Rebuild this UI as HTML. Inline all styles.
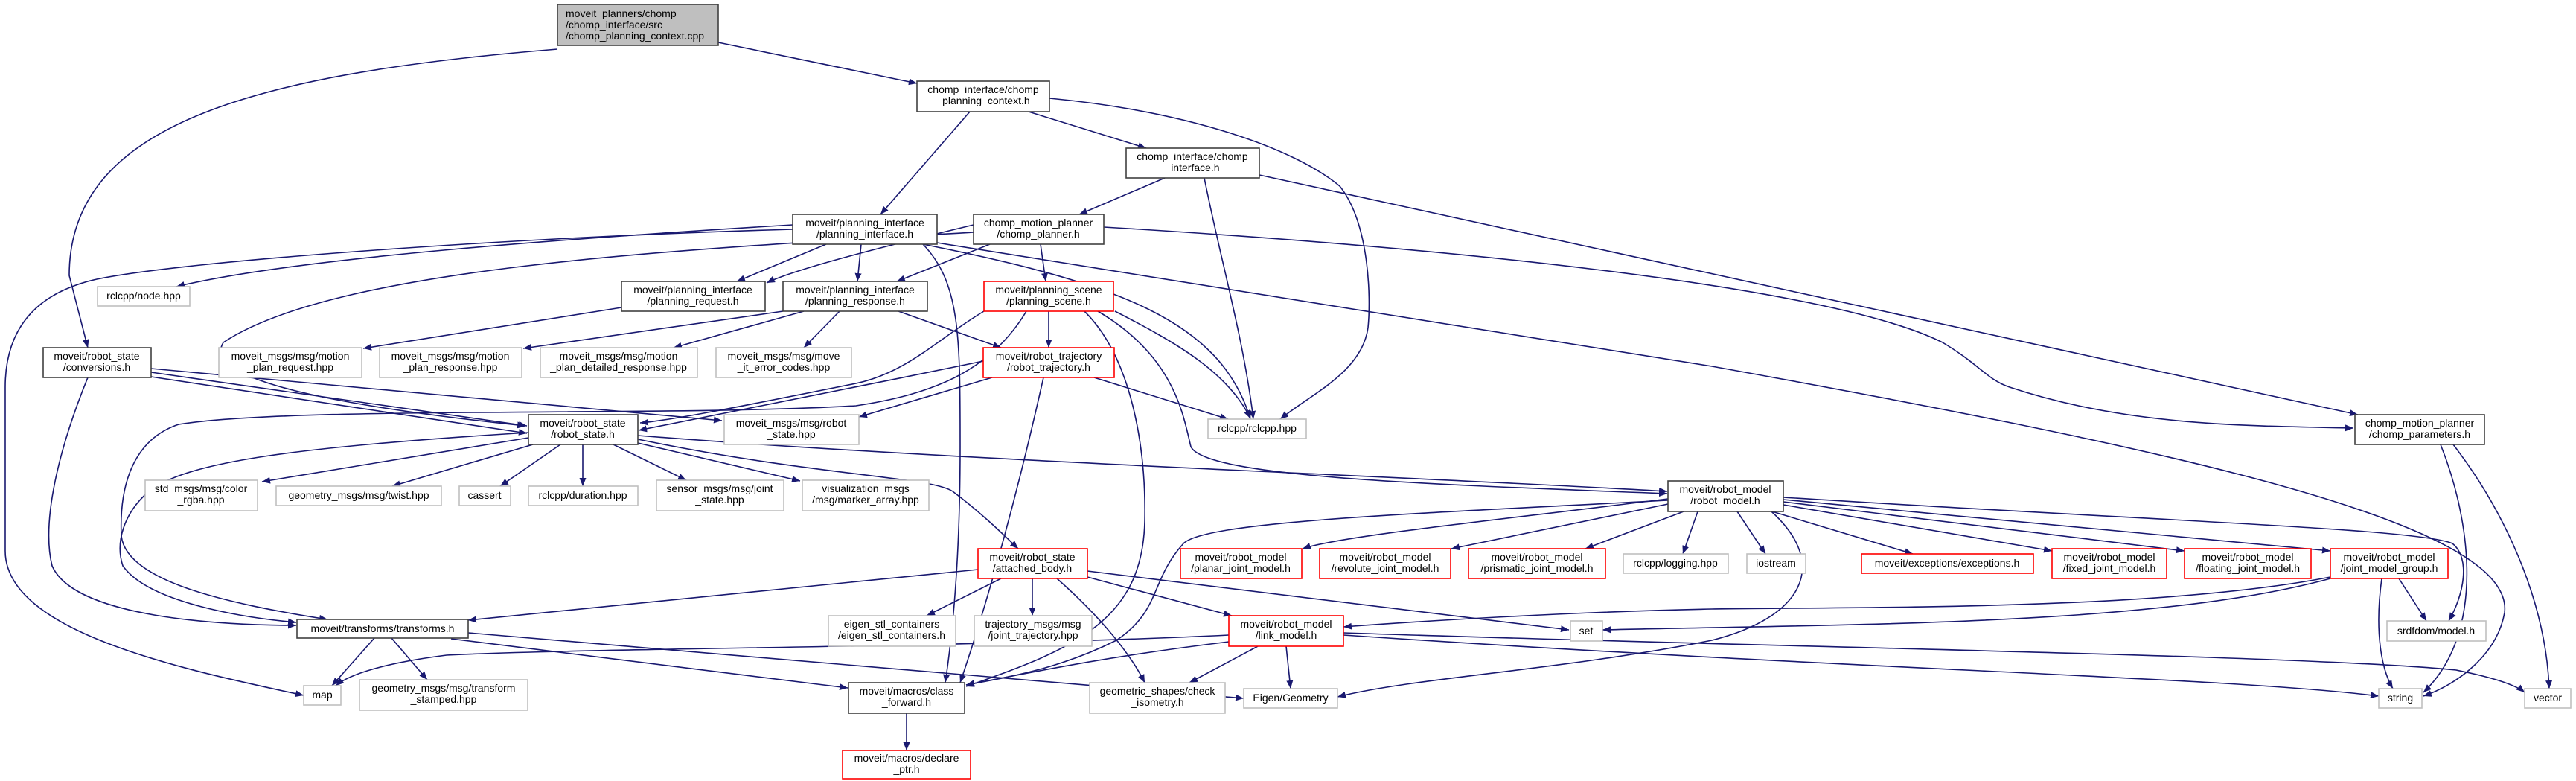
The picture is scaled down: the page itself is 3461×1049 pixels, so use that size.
<!DOCTYPE html>
<html><head><meta charset="utf-8"><style>
html,body{margin:0;padding:0;background:#fff;}
svg{display:block;}
text{font-family:"Liberation Sans",sans-serif;font-size:14px;fill:#000;}
.b{fill:#fff;stroke:#404040;stroke-width:1.6}
.g{fill:#fff;stroke:#bfbfbf;stroke-width:1.6}
.r{fill:#fff;stroke:#ff0000;stroke-width:1.6}
.e{fill:none;stroke:#191970;stroke-width:1.6;marker-end:url(#a)}
</style></head><body>
<svg width="3461" height="1049" viewBox="0 0 3461 1049" xmlns="http://www.w3.org/2000/svg">
<defs><marker id="a" markerUnits="userSpaceOnUse" markerWidth="12" markerHeight="9" refX="11" refY="4.5" orient="auto"><path d="M0,0 L11,4.5 L0,9 z" fill="#191970"/></marker></defs>
<g>
<path class="e" d="M965,57 L1232,112"/>
<path class="e" d="M749,66 C330,100 93,170 93,370 L118,467"/>
<path class="e" d="M1303,150 L1183,288"/>
<path class="e" d="M1382,150 L1540,199"/>
<path class="e" d="M1410,132 C1600,150 1740,200 1800,250 C1840,300 1842,400 1838,440 C1830,500 1760,530 1720,563"/>
<path class="e" d="M1565,239 L1450,288"/>
<path class="e" d="M1618,239 C1640,350 1670,450 1684,563"/>
<path class="e" d="M1692,235 L3168,557"/>
<path class="e" d="M1110,328 L990,378"/>
<path class="e" d="M1157,328 L1152,378"/>
<path class="e" d="M1065,302 C800,318 400,345 237,385"/>
<path class="e" d="M1065,308 C700,318 250,350 130,375 C40,395 7,450 7,520 L7,740 C7,850 250,900 408,934"/>
<path class="e" d="M1240,328 C1500,380 1640,430 1680,563"/>
<path class="e" d="M1240,328 C1290,380 1290,450 1290,600 C1290,750 1280,850 1270,917"/>
<path class="e" d="M1259,326 L2300,492 C2900,600 3380,700 3365,823 C3355,880 3300,920 3256,935"/>
<path class="e" d="M1308,302 C1150,340 1060,365 1030,380"/>
<path class="e" d="M1330,328 L1205,378"/>
<path class="e" d="M1398,328 L1405,378"/>
<path class="e" d="M1308,312 C900,335 450,360 300,460 C270,510 450,545 706,572"/>
<path class="e" d="M1483,305 C1900,330 2450,380 2610,460 C2660,490 2670,510 2700,520 C2850,570 3000,572 3162,575"/>
<path class="e" d="M835,413 L488,468"/>
<path class="e" d="M1052,418 L703,468"/>
<path class="e" d="M1080,418 L905,467"/>
<path class="e" d="M1128,418 L1080,467"/>
<path class="e" d="M1207,418 L1345,467"/>
<path class="e" d="M1409,418 L1409,467"/>
<path class="e" d="M1322,418 C1260,455 1220,500 1150,515 C1000,545 900,565 860,568"/>
<path class="e" d="M1379,418 C1330,500 1250,530 1150,545 C900,560 400,545 240,570 C180,590 160,650 163,720 C170,780 300,810 440,832"/>
<path class="e" d="M1498,418 C1580,460 1650,500 1680,562"/>
<path class="e" d="M1475,418 C1580,480 1590,560 1600,600 C1620,640 1900,650 2240,663"/>
<path class="e" d="M1457,418 C1520,480 1540,600 1538,700 C1535,830 1450,870 1298,922"/>
<path class="e" d="M1321,485 C1150,520 950,560 858,578"/>
<path class="e" d="M1333,507 L1154,560"/>
<path class="e" d="M1470,507 L1650,563"/>
<path class="e" d="M1402,507 C1370,650 1330,800 1290,917"/>
<path class="e" d="M203,500 L708,572"/>
<path class="e" d="M203,506 L708,582"/>
<path class="e" d="M203,495 L970,565"/>
<path class="e" d="M118,507 C80,600 55,700 70,760 C100,830 300,840 398,840"/>
<path class="e" d="M710,588 L352,647"/>
<path class="e" d="M716,597 L527,653"/>
<path class="e" d="M753,597 L672,653"/>
<path class="e" d="M783,597 L783,653"/>
<path class="e" d="M824,597 L922,645"/>
<path class="e" d="M857,595 L1075,646"/>
<path class="e" d="M857,585 C1300,620 1900,640 2240,660"/>
<path class="e" d="M857,590 C1100,640 1250,640 1280,660 C1320,690 1350,720 1368,737"/>
<path class="e" d="M710,581 C400,600 250,620 200,660 C165,690 155,730 165,760 C200,810 330,830 398,836"/>
<path class="e" d="M1345,777 L1245,827"/>
<path class="e" d="M1387,777 L1387,827"/>
<path class="e" d="M1420,777 C1480,830 1520,880 1538,917"/>
<path class="e" d="M1461,775 L1655,827"/>
<path class="e" d="M1461,767 L2108,846"/>
<path class="e" d="M1314,765 L629,833"/>
<path class="e" d="M2241,670 C2000,700 1800,720 1750,737"/>
<path class="e" d="M2241,677 L1950,737"/>
<path class="e" d="M2262,687 L2130,737"/>
<path class="e" d="M2281,687 L2261,744"/>
<path class="e" d="M2334,687 L2372,744"/>
<path class="e" d="M2381,687 L2570,744"/>
<path class="e" d="M2396,678 L2757,740"/>
<path class="e" d="M2396,674 L2935,740"/>
<path class="e" d="M2396,671 L3131,740"/>
<path class="e" d="M2396,668 C2900,700 3250,710 3295,730 C3320,750 3310,800 3290,834"/>
<path class="e" d="M2380,687 C2460,760 2420,830 2300,860 C2100,900 1900,910 1797,936"/>
<path class="e" d="M2241,672 C1900,690 1620,700 1590,730 C1545,780 1560,820 1500,860 C1420,900 1350,910 1298,920"/>
<path class="e" d="M3131,775 C2900,820 2500,815 2300,818 C2100,822 1900,835 1805,842"/>
<path class="e" d="M3131,777 C2900,840 2500,838 2153,846"/>
<path class="e" d="M3200,777 C3190,850 3200,900 3215,925"/>
<path class="e" d="M3223,777 L3260,834"/>
<path class="e" d="M1651,862 C1500,880 1400,900 1298,920"/>
<path class="e" d="M1690,868 L1598,917"/>
<path class="e" d="M1728,868 L1734,925"/>
<path class="e" d="M1651,853 C1300,870 800,870 600,880 C520,890 470,905 451,921"/>
<path class="e" d="M1805,853 C2500,900 3000,910 3196,935"/>
<path class="e" d="M1805,850 C2400,870 3100,880 3300,900 C3350,910 3380,920 3392,930"/>
<path class="e" d="M503,857 L446,921"/>
<path class="e" d="M526,857 L574,913"/>
<path class="e" d="M629,850 L1671,938"/>
<path class="e" d="M606,858 L1139,924"/>
<path class="e" d="M1218,958 L1218,1008"/>
<path class="e" d="M3279,597 C3320,700 3340,850 3256,930"/>
<path class="e" d="M3296,597 C3360,680 3420,800 3425,925"/>
</g>
<g>
<rect x="749" y="6" width="216" height="55" style="fill:#bfbfbf;stroke:#404040;stroke-width:1.6"/>
<text x="760" y="23">moveit_planners/chomp</text><text x="760" y="38">/chomp_interface/src</text><text x="760" y="53">/chomp_planning_context.cpp</text>
</g>
<g text-anchor="middle">
<rect class="b" x="1232" y="109" width="178" height="41"/><text x="1321" y="125">chomp_interface/chomp</text><text x="1321" y="140">_planning_context.h</text>
<rect class="b" x="1513" y="199" width="179" height="40"/><text x="1602" y="215">chomp_interface/chomp</text><text x="1602" y="230">_interface.h</text>
<rect class="b" x="1065" y="288" width="194" height="40"/><text x="1162" y="304">moveit/planning_interface</text><text x="1162" y="319">/planning_interface.h</text>
<rect class="b" x="1308" y="288" width="175" height="40"/><text x="1395" y="304">chomp_motion_planner</text><text x="1395" y="319">/chomp_planner.h</text>
<rect class="g" x="131" y="385" width="124" height="26"/><text x="193" y="402">rclcpp/node.hpp</text>
<rect class="b" x="835" y="378" width="193" height="40"/><text x="931" y="394">moveit/planning_interface</text><text x="931" y="409">/planning_request.h</text>
<rect class="b" x="1052" y="378" width="194" height="40"/><text x="1149" y="394">moveit/planning_interface</text><text x="1149" y="409">/planning_response.h</text>
<rect class="r" x="1322" y="378" width="174" height="40"/><text x="1409" y="394">moveit/planning_scene</text><text x="1409" y="409">/planning_scene.h</text>
<rect class="b" x="58" y="467" width="145" height="40"/><text x="130" y="483">moveit/robot_state</text><text x="130" y="498">/conversions.h</text>
<rect class="g" x="294" y="467" width="192" height="40"/><text x="390" y="483">moveit_msgs/msg/motion</text><text x="390" y="498">_plan_request.hpp</text>
<rect class="g" x="510" y="467" width="191" height="40"/><text x="605" y="483">moveit_msgs/msg/motion</text><text x="605" y="498">_plan_response.hpp</text>
<rect class="g" x="726" y="467" width="211" height="40"/><text x="831" y="483">moveit_msgs/msg/motion</text><text x="831" y="498">_plan_detailed_response.hpp</text>
<rect class="g" x="962" y="467" width="182" height="40"/><text x="1053" y="483">moveit_msgs/msg/move</text><text x="1053" y="498">_it_error_codes.hpp</text>
<rect class="r" x="1321" y="467" width="176" height="40"/><text x="1409" y="483">moveit/robot_trajectory</text><text x="1409" y="498">/robot_trajectory.h</text>
<rect class="b" x="710" y="557" width="147" height="40"/><text x="783" y="573">moveit/robot_state</text><text x="783" y="588">/robot_state.h</text>
<rect class="g" x="973" y="557" width="181" height="40"/><text x="1063" y="573">moveit_msgs/msg/robot</text><text x="1063" y="588">_state.hpp</text>
<rect class="g" x="1623" y="563" width="132" height="26"/><text x="1689" y="580">rclcpp/rclcpp.hpp</text>
<rect class="b" x="3164" y="557" width="174" height="40"/><text x="3251" y="573">chomp_motion_planner</text><text x="3251" y="588">/chomp_parameters.h</text>
<rect class="g" x="195" y="645" width="151" height="41"/><text x="270" y="661">std_msgs/msg/color</text><text x="270" y="676">_rgba.hpp</text>
<rect class="g" x="371" y="653" width="222" height="26"/><text x="482" y="670">geometry_msgs/msg/twist.hpp</text>
<rect class="g" x="617" y="653" width="69" height="26"/><text x="651" y="670">cassert</text>
<rect class="g" x="710" y="653" width="147" height="26"/><text x="783" y="670">rclcpp/duration.hpp</text>
<rect class="g" x="882" y="645" width="171" height="41"/><text x="967" y="661">sensor_msgs/msg/joint</text><text x="967" y="676">_state.hpp</text>
<rect class="g" x="1078" y="645" width="170" height="41"/><text x="1163" y="661">visualization_msgs</text><text x="1163" y="676">/msg/marker_array.hpp</text>
<rect class="b" x="2241" y="646" width="155" height="41"/><text x="2318" y="662">moveit/robot_model</text><text x="2318" y="677">/robot_model.h</text>
<rect class="r" x="1314" y="737" width="147" height="40"/><text x="1387" y="753">moveit/robot_state</text><text x="1387" y="768">/attached_body.h</text>
<rect class="r" x="1586" y="737" width="163" height="40"/><text x="1667" y="753">moveit/robot_model</text><text x="1667" y="768">/planar_joint_model.h</text>
<rect class="r" x="1773" y="737" width="176" height="40"/><text x="1861" y="753">moveit/robot_model</text><text x="1861" y="768">/revolute_joint_model.h</text>
<rect class="r" x="1973" y="737" width="184" height="40"/><text x="2065" y="753">moveit/robot_model</text><text x="2065" y="768">/prismatic_joint_model.h</text>
<rect class="g" x="2181" y="744" width="141" height="26"/><text x="2251" y="761">rclcpp/logging.hpp</text>
<rect class="g" x="2347" y="744" width="79" height="26"/><text x="2386" y="761">iostream</text>
<rect class="r" x="2501" y="744" width="231" height="26"/><text x="2616" y="761">moveit/exceptions/exceptions.h</text>
<rect class="r" x="2757" y="737" width="154" height="40"/><text x="2834" y="753">moveit/robot_model</text><text x="2834" y="768">/fixed_joint_model.h</text>
<rect class="r" x="2935" y="737" width="170" height="40"/><text x="3020" y="753">moveit/robot_model</text><text x="3020" y="768">/floating_joint_model.h</text>
<rect class="r" x="3131" y="737" width="158" height="40"/><text x="3210" y="753">moveit/robot_model</text><text x="3210" y="768">/joint_model_group.h</text>
<rect class="b" x="399" y="832" width="230" height="25"/><text x="514" y="849">moveit/transforms/transforms.h</text>
<rect class="g" x="1113" y="827" width="171" height="41"/><text x="1198" y="843">eigen_stl_containers</text><text x="1198" y="858">/eigen_stl_containers.h</text>
<rect class="g" x="1309" y="827" width="158" height="41"/><text x="1388" y="843">trajectory_msgs/msg</text><text x="1388" y="858">/joint_trajectory.hpp</text>
<rect class="r" x="1651" y="827" width="154" height="41"/><text x="1728" y="843">moveit/robot_model</text><text x="1728" y="858">/link_model.h</text>
<rect class="g" x="2110" y="834" width="43" height="27"/><text x="2131" y="852">set</text>
<rect class="g" x="3207" y="834" width="133" height="27"/><text x="3273" y="852">srdfdom/model.h</text>
<rect class="g" x="408" y="921" width="50" height="26"/><text x="433" y="938">map</text>
<rect class="g" x="483" y="913" width="226" height="41"/><text x="596" y="929">geometry_msgs/msg/transform</text><text x="596" y="944">_stamped.hpp</text>
<rect class="b" x="1140" y="917" width="156" height="41"/><text x="1218" y="933">moveit/macros/class</text><text x="1218" y="948">_forward.h</text>
<rect class="g" x="1464" y="917" width="182" height="41"/><text x="1555" y="933">geometric_shapes/check</text><text x="1555" y="948">_isometry.h</text>
<rect class="g" x="1671" y="925" width="126" height="26"/><text x="1734" y="942">Eigen/Geometry</text>
<rect class="g" x="3196" y="925" width="58" height="26"/><text x="3225" y="942">string</text>
<rect class="g" x="3392" y="925" width="62" height="26"/><text x="3423" y="942">vector</text>
<rect class="r" x="1132" y="1008" width="172" height="38"/><text x="1218" y="1023">moveit/macros/declare</text><text x="1218" y="1038">_ptr.h</text>
</g>
</svg>
</body></html>
